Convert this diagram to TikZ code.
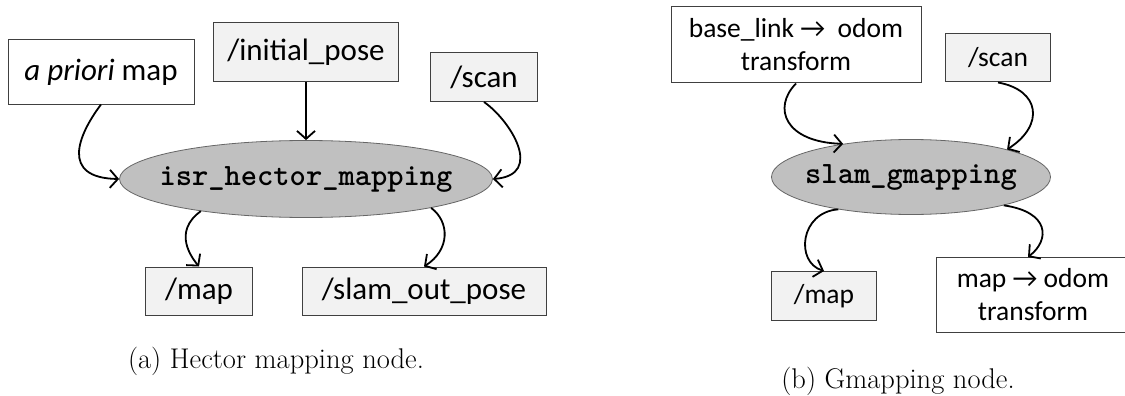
\documentclass[tikz,border=0pt]{standalone}
\usepackage{fontspec}
\newfontfamily\boxfont{Carlito}
\usetikzlibrary{arrows.meta,shapes.geometric}
\definecolor{topicfill}{HTML}{F2F2F2}
\definecolor{nodefill}{HTML}{C0C0C0}
\definecolor{rim}{HTML}{404040}

\begin{document}
\begin{tikzpicture}[x=1pt,y=-1pt,
  box/.style={draw=rim, line width=1pt, inner sep=0pt, align=center,
    font=\boxfont\fontsize{31}{33}\selectfont},
  topic/.style={box, fill=topicfill},
  plainbox/.style={box, fill=white},
  smalltext/.style={font=\boxfont\fontsize{27.5}{33}\selectfont},
  rosnode/.style={ellipse, draw=rim!80, line width=0.8pt, fill=nodefill,
    inner sep=0pt},
  nodename/.style={inner sep=0pt, font=\ttfamily\bfseries\fontsize{31}{33}\selectfont},
  flow/.style={line width=1.8pt, -{Straight Barb[length=8pt,width=18pt]}},
  caption/.style={inner sep=0pt, font=\fontsize{28.5}{32}\selectfont}]
\useasboundingbox (0,0) rectangle (1125,396);

% ---------------- (a) Hector mapping ----------------
\node[plainbox, minimum width=186pt, minimum height=64pt] (apriori) at (101,72) {\textit{a priori} map};
\node[topic, minimum width=185pt, minimum height=59pt] (initpose) at (306,52) {/initial\_pose};
\node[topic, minimum width=107pt, minimum height=49pt] (scanA) at (484,77) {/scan};
\node[rosnode, minimum width=373pt, minimum height=77pt] (hector) at (306,179) {};
\node[nodename] (hectorname) at (hector.center) {isr\_hector\_mapping};
\node[topic, minimum width=107pt, minimum height=48pt] (mapA) at (199,291) {/map};
\node[topic, minimum width=244pt, minimum height=48pt] (slamout) at (424,291) {/slam\_out\_pose};
\node[caption] (capA) at (276,361) {(a) Hector mapping node.};

\draw[flow] (apriori.south) .. controls (78,135) and (60,178) .. (hector.west);
\draw[flow] (initpose.south) -- (hector.north);
\draw[flow] (scanA.south) .. controls (510,120) and (545,175) .. (hector.east);
\draw[flow] (hector.197) .. controls (172,232) and (192,258) .. (mapA.north);
\draw[flow] (hector.347) .. controls (450,222) and (450,250) .. (slamout.north);

% ---------------- (b) Gmapping ----------------
\node[plainbox, smalltext, minimum width=250pt, minimum height=76pt] (baselink) at (796,45) {base\_link → \ odom\\transform};
\node[topic, smalltext, minimum width=105pt, minimum height=48pt] (scanB) at (998,58) {/scan};
\node[rosnode, minimum width=279pt, minimum height=75pt] (gmap) at (911,177) {};
\node[nodename] (gmapname) at (gmap.center) {slam\_gmapping};
\node[topic, smalltext, minimum width=105pt, minimum height=49pt] (mapB) at (824,296) {/map};
\node[plainbox, smalltext, minimum width=194pt, minimum height=75pt] (mapodom) at (1033,295) {map → odom\\transform};
\node[caption] (capB) at (898,381) {(b) Gmapping node.};

\draw[flow] (baselink.south) .. controls (772,108) and (785,142) .. (gmap.154);
\draw[flow] (scanB.south) .. controls (1040,90) and (1045,125) .. (gmap.16);
\draw[flow] (gmap.204) .. controls (800,212) and (795,262) .. (mapB.north);
\draw[flow] (gmap.343) .. controls (1050,212) and (1050,240) .. ([xshift=-5pt]mapodom.north);
\end{tikzpicture}
\end{document}
